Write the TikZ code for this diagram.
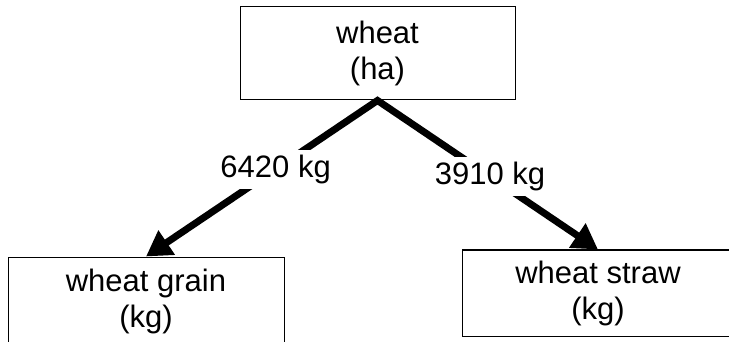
\documentclass[tikz,border=0pt]{standalone}
\usepackage{fontspec}
\setmainfont{Liberation Sans}
\usetikzlibrary{arrows.meta}
\tikzset{
  box/.style={draw = black, line width = 1pt, align = center, inner sep = 0pt,
    font = \fontsize{31}{36}\selectfont},
  amount/.style={fill = white, inner sep = 5pt, font = \fontsize{31}{36}\selectfont},
  flow/.style={line width = 7pt,
    arrows = {Triangle[length=25pt,width=28pt]-Triangle[length=25pt,width=28pt]}}
}
\begin{document}
\begin{tikzpicture}[x=1pt, y=-1pt]
\useasboundingbox (0,0) rectangle (729,342);
\clip (0,0) rectangle (729,342);
\node[box, minimum width = 275pt, minimum height = 93pt] (wheat) at (377.5,53.5) {wheat\\(ha)};
\node[box, minimum width = 276pt, minimum height = 88pt] (grain) at (146,301) {wheat grain\\(kg)};
\node[box, minimum width = 272pt, minimum height = 86pt] (straw) at (598,293) {wheat straw\\(kg)};
\draw[flow] (grain.north) -- node[amount, pos = 0.56] (yieldgrain) {6420 kg} (wheat.south)
  -- node[amount, pos = 0.51] (yieldstraw) {3910 kg} (straw.north);
\end{tikzpicture}
\end{document}
